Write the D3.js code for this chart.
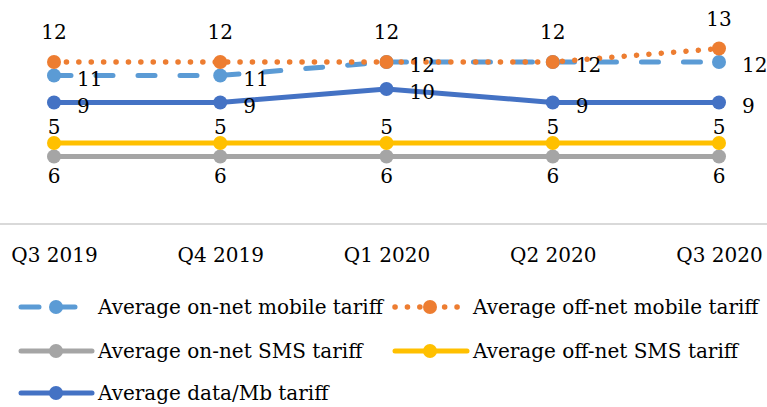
<!DOCTYPE html>
<html>
<head>
<meta charset="utf-8">
<script src="https://cdn.jsdelivr.net/npm/d3@7"></script>
<style>
  body { margin: 0; background: #fff; }
  text { font-family: "DejaVu Serif", serif; fill: #000; }
</style>
</head>
<body>
<script>
// data
const quarters = ["Q3 2019", "Q4 2019", "Q1 2020", "Q2 2020", "Q3 2020"];
const onNetMobile = [11, 11, 12, 12, 12];
const offNetMobile = [12, 12, 12, 12, 13];
const onNetSms = [5, 5, 5, 5, 5];
const offNetSms = [6, 6, 6, 6, 6];
const dataMb = [9, 9, 10, 9, 9];

const seriesNames = ["Average on-net mobile tariff", "Average off-net mobile tariff",
  "Average on-net SMS tariff", "Average off-net SMS tariff", "Average data/Mb tariff"];

// styles per series (drawing order)
const series = [
  { name: seriesNames[0], values: onNetMobile, color: "#5B9BD5", dash: "17,25", label: "right" },
  { name: seriesNames[1], values: offNetMobile, color: "#ED7D31", dash: "0.1,12.3", label: "above" },
  { name: seriesNames[2], values: onNetSms, color: "#A5A5A5", dash: null, label: "above" },
  { name: seriesNames[3], values: offNetSms, color: "#FFC000", dash: null, label: "below" },
  { name: seriesNames[4], values: dataMb, color: "#4472C4", dash: null, label: "right" }
];

const W = 767, H = 407;
const svg = d3.select("body").append("svg")
  .attr("width", W)
  .attr("height", H);

const x = d3.scalePoint().domain(quarters).range([54, 719]);
const y = d3.scaleLinear().domain([0, 13]).range([224, 224 - 13 * 13.5]);

// axis line
svg.append("line")
  .attr("x1", 0).attr("x2", W)
  .attr("y1", y(0)).attr("y2", y(0))
  .attr("stroke", "#d9d9d9")
  .attr("stroke-width", 2);

const xAxis = svg.append("g")
  .attr("transform", `translate(0,${y(0)})`)
  .call(d3.axisBottom(x).tickSize(0).tickPadding(24));
xAxis.select(".domain").remove();
xAxis.selectAll("text")
  .style("font-family", "DejaVu Serif, serif")
  .style("font-size", "20px")
  .attr("fill", "#000");

const line = d3.line()
  .x((d, i) => x(quarters[i]))
  .y(d => y(d));

// lines + markers
series.forEach(s => {
  const g = svg.append("g");
  g.append("path")
    .datum(s.values)
    .attr("d", line)
    .attr("fill", "none")
    .attr("stroke", s.color)
    .attr("stroke-width", s.dash === "0.1,12.3" ? 5.5 : 5)
    .attr("stroke-linecap", "round")
    .attr("stroke-linejoin", "round")
    .attr("stroke-dasharray", s.dash);
  g.selectAll("circle")
    .data(s.values)
    .enter()
    .append("circle")
    .attr("cx", (d, i) => x(quarters[i]))
    .attr("cy", d => y(d))
    .attr("r", 7)
    .attr("fill", s.color);
});

// data labels
series.forEach(s => {
  svg.append("g").selectAll("text")
    .data(s.values)
    .enter()
    .append("text")
    .attr("x", (d, i) => s.label === "right" ? x(quarters[i]) + 23 : x(quarters[i]))
    .attr("y", d => {
      if (s.label === "above") return y(d) - 30 + 7;
      if (s.label === "below") return y(d) + 33 + 7;
      return y(d) + 3 + 7;
    })
    .attr("text-anchor", s.label === "right" ? "start" : "middle")
    .style("font-size", "20px")
    .text(d => d);
});

// legend
const legendPos = [
  { x: 21, y: 307, len: 65 },
  { x: 395, y: 307, len: 67 },
  { x: 21, y: 351, len: 71 },
  { x: 395, y: 351, len: 72 },
  { x: 21, y: 393, len: 71 }
];
const legend = svg.append("g");
series.forEach((s, i) => {
  const p = legendPos[i];
  const g = legend.append("g").attr("transform", `translate(${p.x},${p.y})`);
  g.append("line")
    .attr("x1", 0).attr("x2", p.len)
    .attr("y1", 0).attr("y2", 0)
    .attr("stroke", s.color)
    .attr("stroke-width", s.dash === "0.1,12.3" ? 5.5 : 5)
    .attr("stroke-linecap", "round")
    .attr("stroke-dasharray", s.dash === "17,25" ? "18,18" : s.dash);
  g.append("circle")
    .attr("cx", 35).attr("cy", 0)
    .attr("r", 7)
    .attr("fill", s.color);
  g.append("text")
    .attr("x", i % 2 === 0 ? 77 : 78)
    .attr("y", 7)
    .style("font-size", "20px")
    .text(s.name);
});
</script>
</body>
</html>
